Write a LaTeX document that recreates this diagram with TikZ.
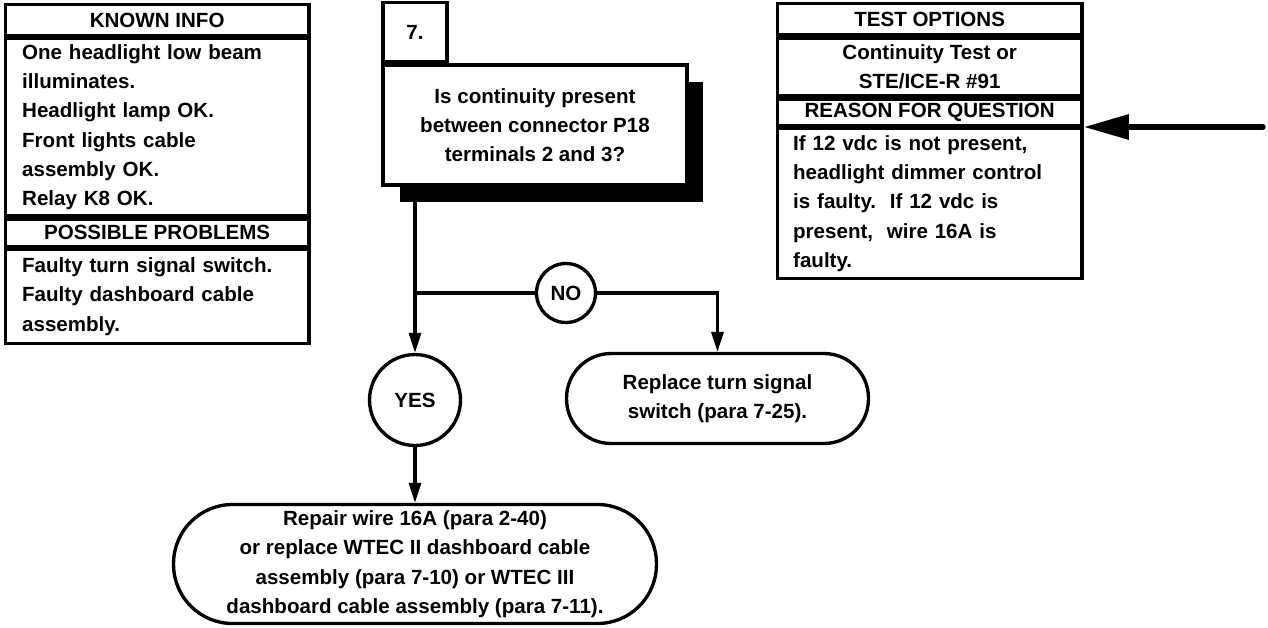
\documentclass[tikz,border=0pt]{standalone}
\usepackage{fontspec}
\setmainfont{Liberation Sans}
\usetikzlibrary{arrows.meta,positioning,shadows}
\tikzset{
  basebox/.style={draw=black,line width=1.9pt,fill=white,inner sep=0pt,font=\fontsize{11.7}{16.7}\selectfont\bfseries},
  headbox/.style={basebox,align=center},
  listbox/.style={basebox,align=left},
  pill/.style={basebox,rounded corners=#1,align=center},
  answer/.style={basebox,circle},
  arrow/.style={-{Triangle[length=4mm,width=2.4mm]},line width=1.9pt},
  bigarrow/.style={-{Triangle[length=9mm,width=4.8mm]},line width=3.4pt,line cap=round}
}
\begin{document}
\begin{tikzpicture}[x=0.02cm,y=-0.02cm,
    lhead/.style={headbox,minimum width=60.8mm,anchor=north west},
    llist/.style={listbox,anchor=north west,inner xsep=3.4mm,text width=54mm},
    rhead/.style={headbox,minimum width=61mm,anchor=north west},
    rlist/.style={listbox,anchor=north west,inner xsep=3.2mm,text width=54.6mm}
  ]
    \useasboundingbox (0,0) rectangle (1268,627);
    % left table
    \node[lhead,minimum height=6.1mm] (known) at (3.5,3) {KNOWN INFO};
    \node[llist,minimum height=35.5mm,below=0pt of known.south west,anchor=north west] (knownlist)
      {One headlight low beam\\illuminates.\\Headlight lamp OK.\\Front lights cable\\assembly OK.\\Relay K8 OK.};
    \node[lhead,minimum height=5.4mm,below=0pt of knownlist.south west,anchor=north west] (probs) {POSSIBLE PROBLEMS};
    \node[llist,minimum height=18.8mm,below=0pt of probs.south west,anchor=north west] (probslist)
      {Faulty turn signal switch.\\Faulty dashboard cable\\assembly.};
    % right table
    \node[rhead,minimum height=6.2mm] (tests) at (775.5,2) {TEST OPTIONS};
    \node[rhead,minimum height=11.6mm,below=0pt of tests.south west,anchor=north west] (testslist)
      {Continuity Test or\\STE/ICE-R \#91};
    \node[rhead,minimum height=5.2mm,below=0pt of testslist.south west,anchor=north west] (reason) {REASON FOR QUESTION};
    \node[rlist,minimum height=30mm,below=0pt of reason.south west,anchor=north west] (reasonlist)
      {If 12 vdc is not present,\\headlight dimmer control\\is faulty.\ \ If 12 vdc is\\present,\ \ wire 16A is\\faulty.};
    % question
    \node[headbox,minimum width=60.8mm,minimum height=24mm,
      general shadow={fill=black,shadow xshift=3.3mm,shadow yshift=-3.4mm}] (q) at (535,125)
      {Is continuity present\\between connector P18\\terminals 2 and 3?};
    \node[headbox,minimum width=12.8mm,minimum height=11.8mm,above=0pt of q.north west,anchor=south west] (step7)
      {\raisebox{-3pt}{7.}};
    % answers
    \node[answer,minimum size=11.8mm] (no) at (566,293) {NO};
    \node[answer,minimum size=18.2mm] (yes) at (415,400) {YES};
    \node[pill=8.9mm,minimum width=60.4mm,minimum height=18mm] (swap) at (717.5,398.5)
      {Replace turn signal\\switch (para 7-25).};
    \node[pill=11.8mm,minimum width=96.6mm,minimum height=23.8mm] (repair) at (415,564)
      {Repair wire 16A (para 2-40)\\or replace WTEC II dashboard cable\\assembly (para 7-10) or WTEC III\\dashboard cable assembly (para 7-11).};
    \coordinate (split) at (yes |- no);
    \draw[arrow] (q.south -| yes) -- (yes.north);
    \draw[line width=1.9pt] (split) -- (no);
    \draw[arrow] (no) -| (swap);
    \draw[arrow] (yes) -- (repair);
    \draw[bigarrow] ([xshift=35.8mm]reasonlist.north east) -- (reasonlist.north east);
  \end{tikzpicture}
\end{document}
